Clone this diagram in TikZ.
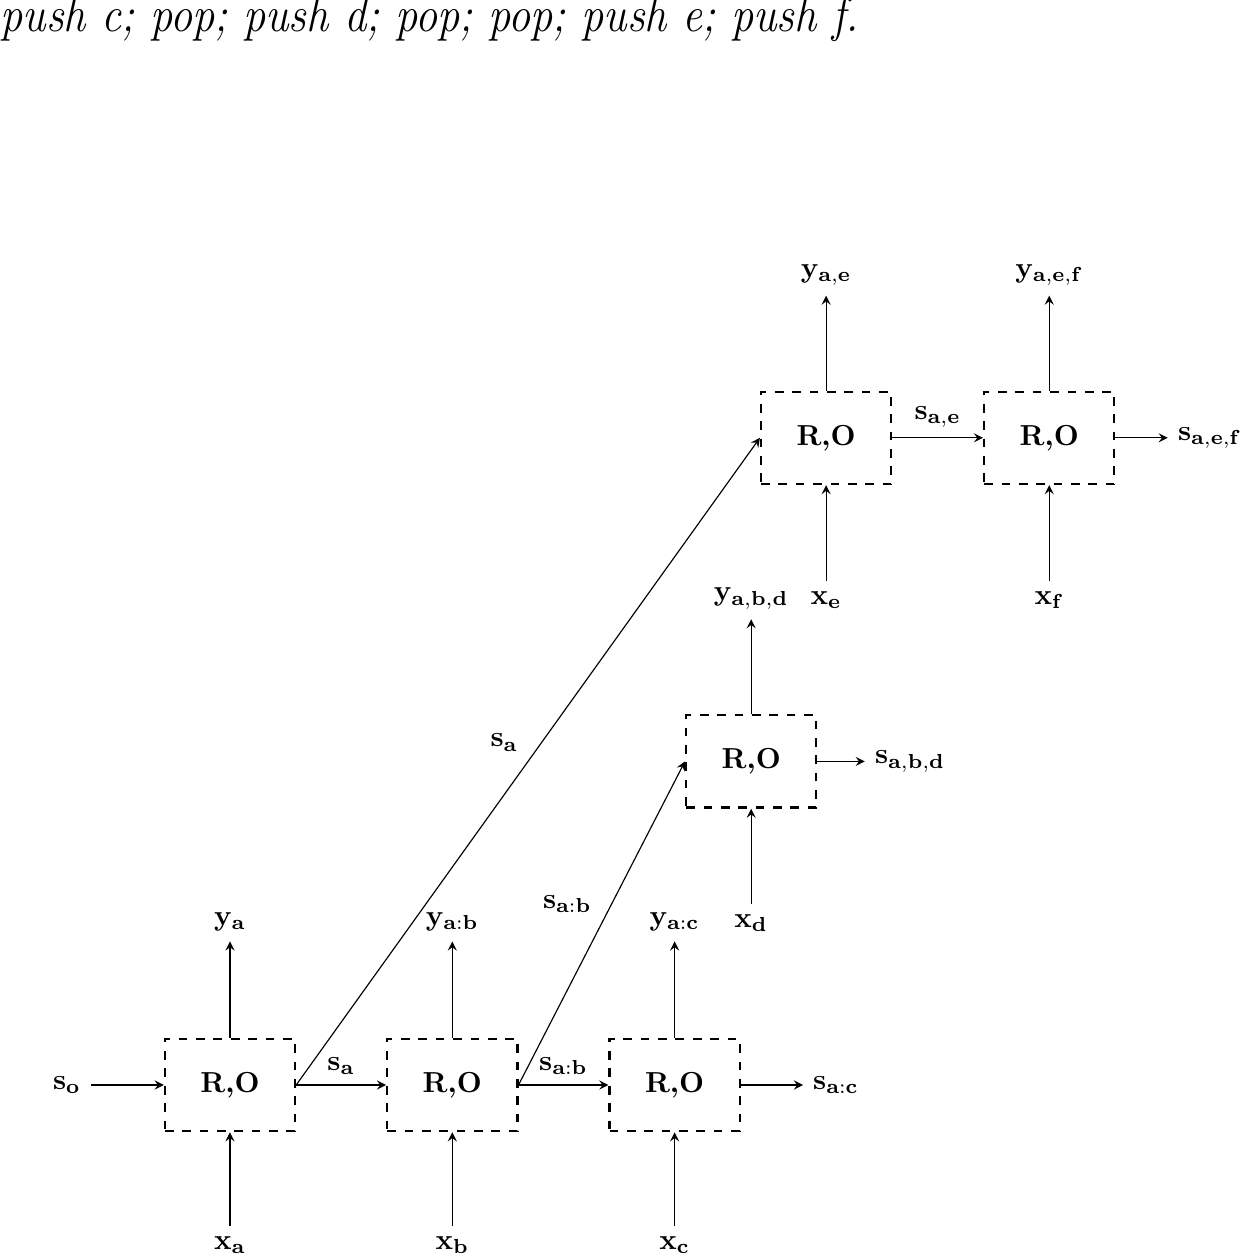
\documentclass[tikz,border=0pt]{standalone}
\usepackage{amsmath}
\usepackage{graphicx}
\usepackage{tikz}
\usetikzlibrary{arrows}

\tikzset{
  rnncell/.style={draw, dashed, thick, minimum width=1.58cm, minimum height=1.12cm, font=\bfseries},
  flow/.style={->, >=stealth}
}

\begin{document}
\begin{tikzpicture}
  \useasboundingbox (-2.793,-2.101) rectangle (12.266,13.177);
  \node[anchor=base west, inner sep=0] (ops) at (-2.793,12.80) {\scalebox{0.887}[1]{\LARGE\textit{push c; pop; push d; pop; pop; push e; push f.}}};

  \node[rnncell] (A) at (0,0) {R,O};
  \node[rnncell] (B) at (2.70,0) {R,O};
  \node[rnncell] (C) at (5.40,0) {R,O};
  \node[rnncell] (D) at (6.33,3.93) {R,O};
  \node[rnncell] (E) at (7.24,7.86) {R,O};
  \node[rnncell] (F) at (9.95,7.86) {R,O};

  \node (so) at (-1.98,0) {$\mathbf{s_o}$};
  \node (xa) at (0,-1.94) {$\mathbf{x_a}$};
  \node (ya) at (0,1.98) {$\mathbf{y_a}$};
  \node (xb) at (2.70,-1.94) {$\mathbf{x_b}$};
  \node (yb) at (2.70,1.98) {$\mathbf{y_{a:b}}$};
  \node (xc) at (5.40,-1.94) {$\mathbf{x_c}$};
  \node (yc) at (5.40,1.98) {$\mathbf{y_{a:c}}$};
  \node (sac) at (7.36,0) {$\mathbf{s_{a:c}}$};
  \node (xd) at (6.33,1.97) {$\mathbf{x_d}$};
  \node (yd) at (6.33,5.91) {$\mathbf{y_{a,b,d}}$};
  \node (sabd) at (8.26,3.93) {$\mathbf{s_{a,b,d}}$};
  \node (xe) at (7.24,5.89) {$\mathbf{x_e}$};
  \node (ye) at (7.24,9.84) {$\mathbf{y_{a,e}}$};
  \node (xf) at (9.95,5.89) {$\mathbf{x_f}$};
  \node (yf) at (9.95,9.84) {$\mathbf{y_{a,e,f}}$};
  \node (saef) at (11.90,7.86) {$\mathbf{s_{a,e,f}}$};

  \draw[flow] (so) -- (A);
  \draw[flow] (xa) -- (A);
  \draw[flow] (A) -- (ya);
  \draw[flow] (A) -- node[above] {$\mathbf{s_a}$} (B);
  \draw[flow] (A.east) -- node[above left] {$\mathbf{s_a}$} (E.west);
  \draw[flow] (xb) -- (B);
  \draw[flow] (B) -- (yb);
  \draw[flow] (B) -- node[above] {$\mathbf{s_{a:b}}$} (C);
  \draw[flow] (B.east) -- node[above left] {$\mathbf{s_{a:b}}$} (D.west);
  \draw[flow] (xc) -- (C);
  \draw[flow] (C) -- (yc);
  \draw[flow] (C) -- (sac);
  \draw[flow] (xd) -- (D);
  \draw[flow] (D) -- (yd);
  \draw[flow] (D) -- (sabd);
  \draw[flow] (xe) -- (E);
  \draw[flow] (E) -- (ye);
  \draw[flow] (E) -- node[above] {$\mathbf{s_{a,e}}$} (F);
  \draw[flow] (xf) -- (F);
  \draw[flow] (F) -- (yf);
  \draw[flow] (F) -- (saef);
\end{tikzpicture}
\end{document}
